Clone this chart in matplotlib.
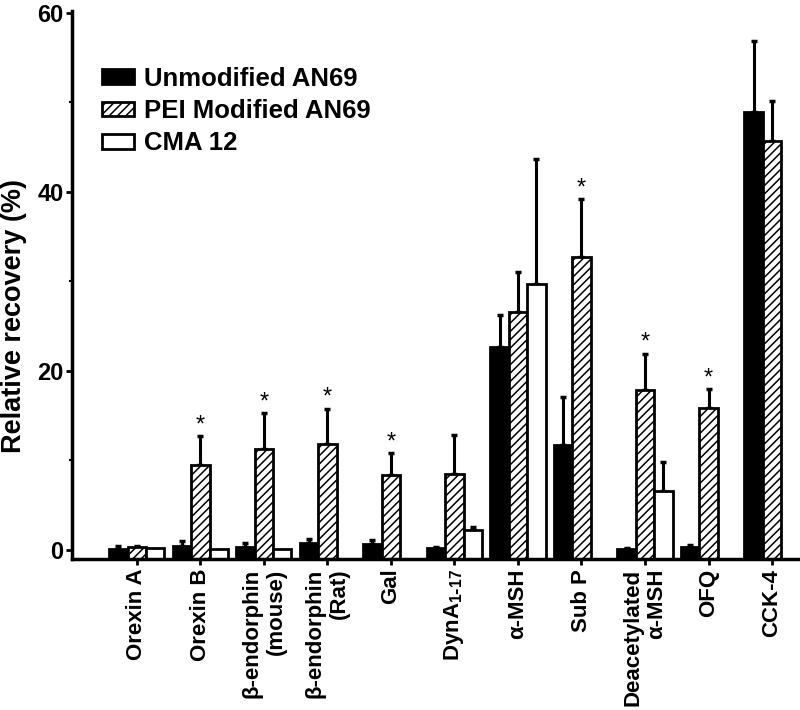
import numpy as np
import matplotlib
matplotlib.use('Agg')
import matplotlib.pyplot as plt
from matplotlib.patches import Patch

plt.rcParams['font.family'] = ['Liberation Sans', 'DejaVu Sans']
plt.rcParams['font.weight'] = 'bold'
plt.rcParams['mathtext.default'] = 'regular'
plt.rcParams['hatch.linewidth'] = 1.1

categories = ['Orexin A', 'Orexin B', 'β-endorphin\n(mouse)', 'β-endorphin\n(Rat)', 'Gal',
              r'DynA$_{1\text{-}17}$', 'α-MSH', 'Sub P', 'Deacetylated\nα-MSH', 'OFQ', 'CCK-4']

unmod = [0.1, 0.5, 0.3, 0.75, 0.65, 0.2, 22.7, 11.7, 0.1, 0.3, 48.9]
unmod_err = [0.3, 0.5, 0.45, 0.5, 0.45, 0.1, 3.6, 5.4, 0.1, 0.3, 7.9]
pei = [0.3, 9.5, 11.25, 11.85, 8.4, 8.5, 26.6, 32.7, 17.9, 15.9, 45.7]
pei_err = [0.1, 3.2, 4.05, 3.95, 2.4, 4.35, 4.4, 6.5, 4.0, 2.05, 4.4]
cma = [0.2, 0.1, 0.1, np.nan, np.nan, 2.2, 29.7, np.nan, 6.6, np.nan, np.nan]
cma_err = [0, 0, 0, np.nan, np.nan, 0.4, 14.0, np.nan, 3.2, np.nan, np.nan]
significant = [1, 2, 3, 4, 7, 8, 9]

ybot = -1.0
w = 0.29
x = np.arange(len(categories))

fig = plt.figure(figsize=(8, 7.1), dpi=100)
ax = fig.add_axes([0.09, 0.2127, 0.91, 0.7718])


def draw(xpos, vals, errs, **kw):
    vals = np.array(vals, dtype=float)
    errs = np.array(errs, dtype=float)
    ok = ~np.isnan(vals)
    ax.bar(xpos[ok], vals[ok] - ybot, bottom=ybot, width=w, edgecolor='black',
           linewidth=2, zorder=2, **kw)
    e = ok & (errs > 0)
    ax.errorbar(xpos[e], vals[e], yerr=[np.zeros(e.sum()), errs[e]], fmt='none',
                ecolor='black', elinewidth=2.2, capsize=2, capthick=2.5, zorder=1)


draw(x - w, unmod, unmod_err, color='black')
draw(x, pei, pei_err, color='white', hatch='////')
draw(x + w, cma, cma_err, color='white')

for i in significant:
    ax.annotate('*', (x[i], pei[i] + pei_err[i]), xytext=(0, 0), textcoords='offset points',
                ha='center', va='bottom', fontsize=17, fontweight='normal')

ax.set_xlim(-1.02, 10.44)
ax.set_ylim(ybot, 60.2)
ax.set_yticks([0, 20, 40, 60])
ax.set_yticks([10, 30, 50], minor=True)
ax.set_xticks(x)
ax.set_xticklabels(categories, rotation=90, va='top', ha='center', multialignment='right',
                   fontsize=16)
ax.tick_params(axis='y', which='major', labelsize=17, length=4, width=2, pad=2)
ax.tick_params(axis='y', which='minor', length=2, width=1.5)
ax.tick_params(axis='x', length=4, width=2, pad=3)
for s in ['top', 'right']:
    ax.spines[s].set_visible(False)
for s in ['left', 'bottom']:
    ax.spines[s].set_linewidth(2.5)

fig.text(0.018, 1 - 316 / 710, 'Relative recovery (%)', rotation=90, va='center', ha='center',
         fontsize=19.5)

handles = [Patch(facecolor='black', edgecolor='black', linewidth=2),
           Patch(facecolor='white', edgecolor='black', hatch='////', linewidth=2),
           Patch(facecolor='white', edgecolor='black', linewidth=2)]
ax.legend(handles, ['Unmodified AN69', 'PEI Modified AN69', 'CMA 12'], loc='upper left',
          bbox_to_anchor=(0.041, 0.898), frameon=False, fontsize=18.5, handlelength=1.25,
          handleheight=0.5, handletextpad=0.4, labelspacing=0.32, borderpad=0, borderaxespad=0)

fig.savefig('out.png', dpi=100)
